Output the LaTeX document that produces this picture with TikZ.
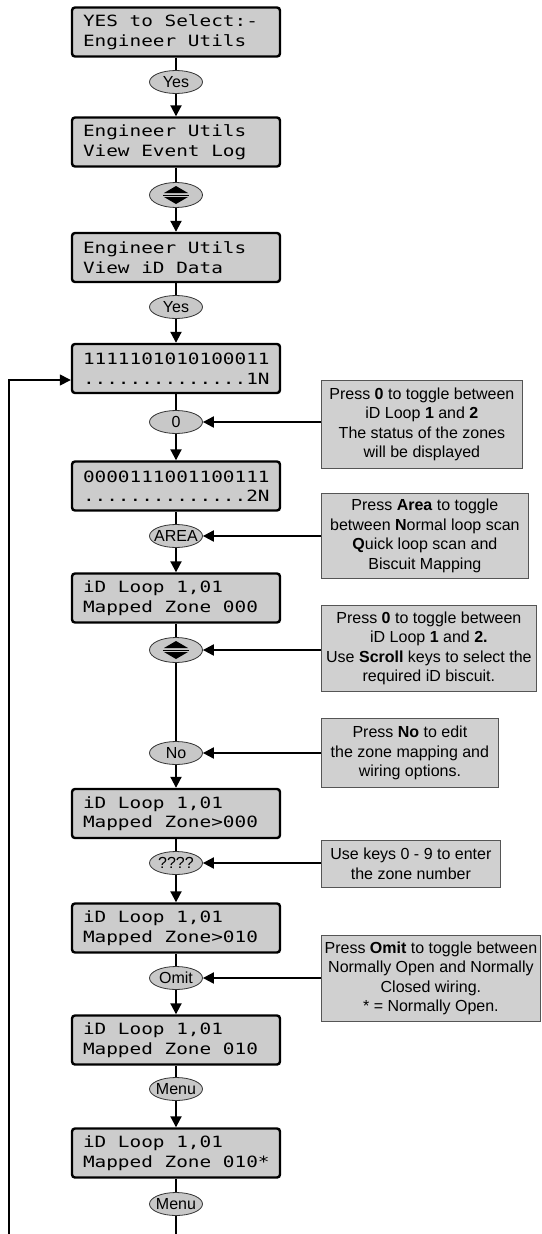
\documentclass[tikz,border=0pt]{standalone}
\usepackage{fontspec}
\setmainfont{Liberation Sans}
\newfontfamily\lcdfont[FakeStretch=1.25]{DejaVu Sans Mono}
\usepackage{tikz}
\usetikzlibrary{positioning,shapes.geometric,arrows.meta}
\definecolor{LcdGrey}{HTML}{CCCCCC}
\definecolor{KeyGrey}{HTML}{C8C8C8}
\definecolor{NoteGrey}{HTML}{D0D0D0}
\definecolor{NoteEdge}{HTML}{555555}
\newcommand\keytext[1]{\makebox[0pt]{#1}}
\newcommand\lcdgap{\hspace*{0.7525em}}
\newcommand\scrollmark[1]{%
  \fill ([shift={(-12pt,2pt)}]#1.center) -- ([shift={(12pt,2pt)}]#1.center) -- ([shift={(0pt,9pt)}]#1.center) -- cycle;
  \fill ([shift={(-12pt,-2pt)}]#1.center) -- ([shift={(12pt,-2pt)}]#1.center) -- ([shift={(0pt,-9pt)}]#1.center) -- cycle;
  \draw[line width=0.9pt] ([shift={(-13pt,0pt)}]#1.center) -- ([shift={(13pt,0pt)}]#1.center);}
\tikzset{
  lcd/.style={draw=black, line width=2.4pt, rounded corners=3pt, fill=LcdGrey,
    minimum width=208pt, minimum height=49pt, text width=186pt, align=left,
    inner sep=0pt, font={\lcdfont\fontsize{15.5}{19.5}\selectfont}},
  keyoval/.style={ellipse, draw=black!80, line width=0.8pt, fill=KeyGrey,
    minimum width=53pt, minimum height=23pt, inner sep=0pt,
    font={\fontsize{16}{18}\selectfont}},
  notebox/.style={draw=NoteEdge, line width=0.8pt, fill=NoteGrey, anchor=north west,
    align=center, inner sep=0pt, font={\fontsize{16}{19.5}\selectfont}},
  feed/.style={line width=1.4pt},
  flow/.style={line width=2pt, -{Triangle[length=11pt,width=11pt]}},
}
\begin{document}
\begin{tikzpicture}[x=1pt, y=-1pt]
  \fill[white] (0,0) rectangle (541,1234);
  \useasboundingbox (0,0) rectangle (541,1234);

  \node[lcd] (scr1) at (176,32) {YES\lcdgap to\lcdgap Select:-\\Engineer\lcdgap Utils};
  \node[keyoval] (yes1) at (176,82) {\keytext{Yes}};
  \node[lcd] (scr2) at (176,142) {Engineer\lcdgap Utils\\View\lcdgap Event\lcdgap Log};
  \node[keyoval, minimum height=25pt] (scroll1) at (176,195) {};
  \node[lcd] (scr3) at (176,257.5) {Engineer\lcdgap Utils\\View\lcdgap iD\lcdgap Data};
  \node[keyoval] (yes2) at (176,307) {\keytext{Yes}};
  \node[lcd] (scr4) at (176,368.5) {1111101010100011\\..............1N};
  \node[keyoval] (key0) at (176,422) {\keytext{0}};
  \node[lcd] (scr5) at (176,486) {0000111001100111\\..............2N};
  \node[keyoval] (area) at (176,536) {\keytext{AREA}};
  \node[lcd] (scr6) at (176,598) {iD\lcdgap Loop\lcdgap 1,01\\Mapped\lcdgap Zone\lcdgap 000};
  \node[keyoval, minimum height=25pt] (scroll2) at (176,650) {};
  \node[keyoval] (keyno) at (176,753) {\keytext{No}};
  \node[lcd] (scr7) at (176,813.5) {iD\lcdgap Loop\lcdgap 1,01\\Mapped\lcdgap Zone>000};
  \node[keyoval] (digits) at (176,863) {\keytext{????}};
  \node[lcd] (scr8) at (176,928) {iD\lcdgap Loop\lcdgap 1,01\\Mapped\lcdgap Zone>010};
  \node[keyoval] (omit) at (176,978) {\keytext{Omit}};
  \node[lcd] (scr9) at (176,1040) {iD\lcdgap Loop\lcdgap 1,01\\Mapped\lcdgap Zone\lcdgap 010};
  \node[keyoval] (menu1) at (176,1089) {\keytext{Menu}};
  \node[lcd] (scr10) at (176,1153) {iD\lcdgap Loop\lcdgap 1,01\\Mapped\lcdgap Zone\lcdgap 010*};
  \node[keyoval] (menu2) at (176,1204) {\keytext{Menu}};
  \scrollmark{scroll1}
  \scrollmark{scroll2}

  \node[notebox, minimum width=201pt, minimum height=88pt] (tip1) at (321,380)
    {Press \textbf{0} to toggle between\\iD Loop \textbf{1} and \textbf{2}\\The status of the zones\\will be displayed};
  \node[notebox, minimum width=207pt, minimum height=85pt] (tip2) at (321,493)
    {Press \textbf{Area} to toggle\\between \textbf{N}ormal loop scan\\\textbf{Q}uick loop scan and\\Biscuit Mapping};
  \node[notebox, minimum width=215pt, minimum height=86pt] (tip3) at (321,605)
    {Press \textbf{0} to toggle between\\iD Loop \textbf{1} and \textbf{2.}\\Use \textbf{Scroll} keys to select the\\required iD biscuit.};
  \node[notebox, minimum width=177pt, minimum height=69pt] (tip4) at (321,718)
    {Press \textbf{No} to edit\\the zone mapping and\\wiring options.};
  \node[notebox, minimum width=179pt, minimum height=47pt] (tip5) at (321,840)
    {Use keys 0 - 9 to enter\\the zone number};
  \node[notebox, minimum width=219pt, minimum height=86pt] (tip6) at (321,935)
    {Press \textbf{Omit} to toggle between\\Normally Open and Normally\\Closed wiring.\\* = Normally Open.};

  \coordinate (tail) at (176,1234);
  \coordinate (loopfoot) at (9,1234);

  \foreach \a/\b in {scr1/yes1, scr2/scroll1, scr3/yes2, scr4/key0, scr5/area,
      scr6/scroll2, scroll2/keyno, scr7/digits, scr8/omit, scr9/menu1, scr10/menu2, menu2/tail}
    \draw[feed] (\a) -- (\b);
  \foreach \a/\b in {yes1/scr2, scroll1/scr3, yes2/scr4, key0/scr5, area/scr6,
      keyno/scr7, digits/scr8, omit/scr9, menu1/scr10}
    \draw[flow] (\a) -- (\b);
  \foreach \n/\k in {tip1/key0, tip2/area, tip3/scroll2, tip4/keyno, tip5/digits, tip6/omit}
    \draw[flow] (\k.east -| \n.west) -- (\k);
  \draw[flow, line width=1.4pt] (loopfoot) |- ([yshift=-11.5pt]scr4.west);
\end{tikzpicture}
\end{document}
